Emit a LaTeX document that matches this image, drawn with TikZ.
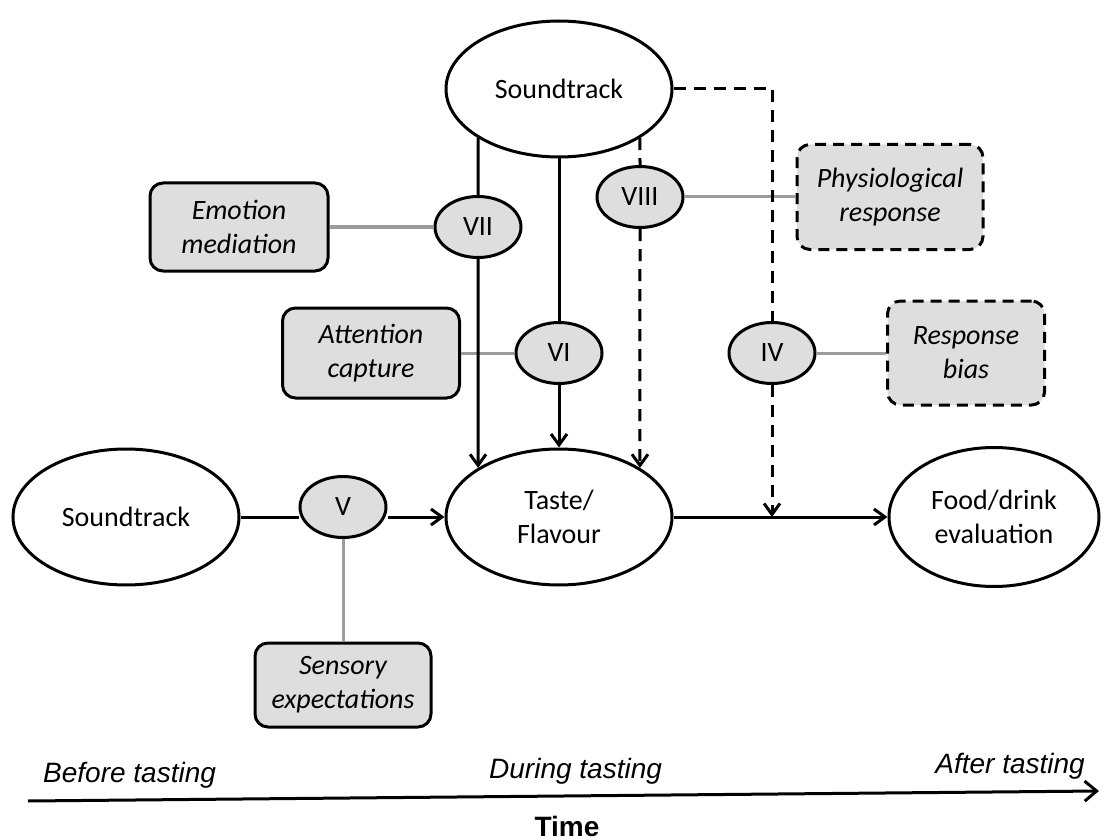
\documentclass[tikz,border=0pt]{standalone}
\usepackage{fontspec}
\setmainfont{Carlito}
\newfontfamily\arialfont{Liberation Sans}
\usetikzlibrary{arrows.meta,shapes.geometric}
\definecolor{fillgrey}{HTML}{DEDEDE}
\definecolor{linkgrey}{HTML}{9C9C9C}

\begin{document}
\begin{tikzpicture}[x=1pt,y=-1pt,font=\fontsize{28}{34}\selectfont,
  big/.style={ellipse,draw,line width=3pt,fill=white,inner sep=0pt,align=center,minimum width=226pt,minimum height=136pt},
  stage/.style={ellipse,draw,line width=3pt,fill=fillgrey,inner sep=0pt,minimum width=86pt,minimum height=61pt},
  mech/.style={rounded corners=13pt,draw,line width=3pt,fill=fillgrey,inner sep=0pt,align=center,font=\fontsize{28}{34}\selectfont\itshape},
  mechq/.style={mech,dash pattern=on 11pt off 7pt},
  wire/.style={line width=3pt},
  wireq/.style={wire,dash pattern=on 12pt off 8pt},
  ar/.style={wire,-{Straight Barb[length=11pt,width=16pt]}},
  arq/.style={wireq,-{Straight Barb[length=11pt,width=16pt]}},
  link/.style={line width=3pt,color=linkgrey},
  phase/.style={inner sep=0pt,font=\arialfont\fontsize{28}{34}\selectfont\itshape}]
  \useasboundingbox (0,0) rectangle (1104,840);
  % main chain at y = 517
  \node[big] (snd)   at (559,89)  {Soundtrack};
  \node[big] (src)   at (126,517) {Soundtrack};
  \node[big] (taste) at (559,517) {Taste/\\Flavour};
  \node[big,minimum width=210pt,minimum height=139pt] (food) at (994,517) {Food/drink\\evaluation};
  % numbered routes
  \node[stage] (vii)  at (478,227) {VII};
  \node[stage] (viii) at (640,197) {VIII};
  \node[stage] (vi)   at (559,353) {VI};
  \node[stage] (iv)   at (772,353) {IV};
  \node[stage] (v)    at (343,507) {V};
  % mechanisms
  \node[mech,minimum width=178pt,minimum height=88pt]   (emo)  at (239,227) {Emotion\\mediation};
  \node[mech,minimum width=177pt,minimum height=90pt]   (att)  at (371,353) {Attention\\capture};
  \node[mechq,minimum width=186pt,minimum height=105pt] (phys) at (890,197) {Physiological\\response};
  \node[mechq,minimum width=157pt,minimum height=104pt] (resp) at (966,353) {Response\\bias};
  \node[mech,minimum width=176pt,minimum height=84pt]   (sens) at (343,685) {Sensory\\expectations};
  % grey links first, so the black lines run over them
  \draw[link] (emo) -- (vii);
  \draw[link] (att) -- (vi);
  \draw[link] (viii) -- (phys);
  \draw[link] (iv) -- (resp);
  \draw[link] (v.south) -- (sens.north);
  % soundtrack to taste
  \draw[wire] (snd.south west) -- (vii.north);
  \draw[ar] (vii.south) -- (taste.north west);
  \draw[wire] (snd.south) -- (vi.north);
  \draw[ar] (vi.south) -- (taste.north);
  \draw[wireq] (snd.south east) -- (viii.north);
  \draw[arq] (viii.south) -- (taste.north east);
  % response bias acts on the evaluation step
  \draw[wireq] (snd.east) -| (iv.north);
  \coordinate (join) at (iv |- taste.east);
  \draw[arq] (iv.south) -- (join);
  \draw[wire] (src.east) -- (src.east -| v.west);
  \draw[ar] (v.east |- taste.west) -- (taste.west);
  \draw[ar] (taste.east) -- (food.west);
  % time axis
  \coordinate (t0) at (28,801);
  \coordinate (t1) at (1099,791);
  \draw[wire,-{Straight Barb[length=12pt,width=20pt]}] (t0) -- (t1);
  \node[phase,anchor=base west] (before) at (43,782)  {Before tasting};
  \node[phase,anchor=base west] (during) at (489,778) {During tasting};
  \node[phase,anchor=base east] (after)  at (1085,773) {After tasting};
  \node[inner sep=0pt,anchor=base,font=\arialfont\fontsize{28}{34}\selectfont\bfseries] (time) at (567,836) {Time};
\end{tikzpicture}
\end{document}
